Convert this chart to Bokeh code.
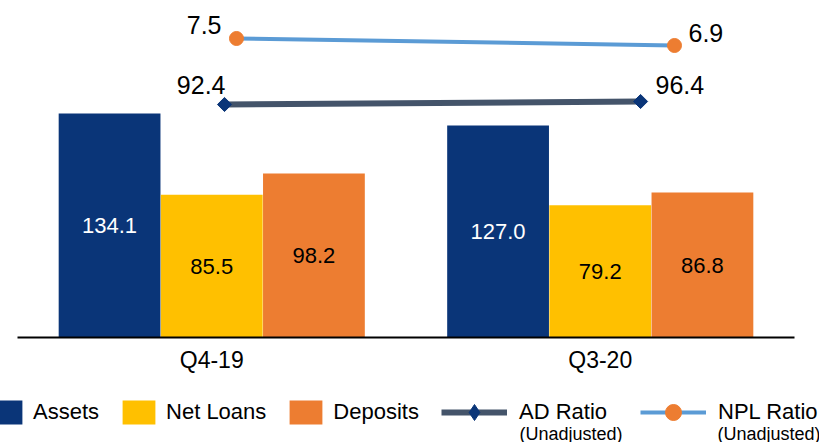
import math
import numpy as np
from bokeh.plotting import figure
from bokeh.layouts import column
from bokeh.models import (ColumnDataSource, Range1d, Legend, LegendItem,
                          Label, FixedTicker)
from bokeh.transform import dodge
from bokeh.core.properties import value
from bokeh.embed import file_html
from bokeh.resources import INLINE

# ---- data ----
quarters = ["Q4-19", "Q3-20"]
assets = [134.1, 127.0]
net_loans = [85.5, 79.2]
deposits = [98.2, 86.8]
ad_ratio = [92.4, 96.4]
npl_ratio = [7.5, 6.9]

# ---- styles ----
FONT = "Liberation Sans"
C_ASSETS = "#0A3578"
C_LOANS = "#FFC000"
C_DEPOSITS = "#ED7D31"
C_AD_LINE = "#44546A"
C_AD_MARK = "#0A3578"
C_NPL_LINE = "#5B9BD5"
C_NPL_MARK = "#ED7D31"
BAR_W = 0.262
OFF = 0.263

cat_pos = [i + 0.5 for i in range(len(quarters))]   # category centres
idx = list(range(len(quarters)))

p = figure(width=819, height=382,
           x_range=Range1d(0, len(quarters)),
           y_range=Range1d(0, 195.8),
           output_backend="svg", toolbar_location=None,
           min_border_left=17, min_border_right=25,
           min_border_top=10, min_border_bottom=45)

p.extra_x_ranges = {"ad": Range1d(-0.4976, 1.370), "npl": Range1d(-0.5, 1.274)}
p.extra_y_ranges = {"ad": Range1d(-218.27, 217.73), "npl": Range1d(-18.13, 9.9)}

src = ColumnDataSource(dict(
    x=cat_pos,
    assets=assets, net_loans=net_loans, deposits=deposits,
    assets_mid=[v / 2 for v in assets],
    loans_mid=[v / 2 for v in net_loans],
    deposits_mid=[v / 2 for v in deposits],
    assets_lbl=[f"{v:.1f}" for v in assets],
    loans_lbl=[f"{v:.1f}" for v in net_loans],
    deposits_lbl=[f"{v:.1f}" for v in deposits],
))

p.vbar(x=dodge("x", -OFF), top="assets", width=BAR_W,
       source=src, fill_color=C_ASSETS, line_color=None)
p.vbar(x=dodge("x", 0), top="net_loans", width=BAR_W,
       source=src, fill_color=C_LOANS, line_color=None)
p.vbar(x=dodge("x", OFF), top="deposits", width=BAR_W,
       source=src, fill_color=C_DEPOSITS, line_color=None)

for off, ycol, tcol, col in [(-OFF, "assets_mid", "assets_lbl", "white"),
                             (0, "loans_mid", "loans_lbl", "black"),
                             (OFF, "deposits_mid", "deposits_lbl", "black")]:
    p.text(x=dodge("x", off), y=ycol, text=tcol, source=src,
           text_align="center", text_baseline="middle", text_color=col,
           text_font=value(FONT), text_font_size="22px")

# ---- ratio lines ----
ad_src = ColumnDataSource(dict(
    i=idx, v=ad_ratio,
    lbl=[f"{v:.1f}" for v in ad_ratio],
    align=["right", "left"], dx=[1, 15], dy=[-19, -16],
))
npl_src = ColumnDataSource(dict(
    i=idx, v=npl_ratio,
    lbl=[f"{v:.1f}" for v in npl_ratio],
    align=["right", "left"], dx=[-15, 14], dy=[-13, -12],
))

p.line("i", "v", source=ad_src, x_range_name="ad", y_range_name="ad",
       line_color=C_AD_LINE, line_width=6)
p.scatter("i", "v", source=ad_src, x_range_name="ad", y_range_name="ad",
          marker="square", angle=math.pi / 4, size=10,
          fill_color=C_AD_MARK, line_color=C_AD_MARK)
p.text(x="i", y="v", text="lbl", source=ad_src, x_range_name="ad", y_range_name="ad",
       text_align="align", x_offset="dx", y_offset="dy", text_baseline="middle",
       text_font=value(FONT), text_font_size="25px", text_color="black")

p.line("i", "v", source=npl_src, x_range_name="npl", y_range_name="npl",
       line_color=C_NPL_LINE, line_width=4)
p.scatter("i", "v", source=npl_src, x_range_name="npl", y_range_name="npl",
          marker="circle", size=14, fill_color=C_NPL_MARK, line_color=C_NPL_MARK)
p.text(x="i", y="v", text="lbl", source=npl_src, x_range_name="npl", y_range_name="npl",
       text_align="align", x_offset="dx", y_offset="dy", text_baseline="middle",
       text_font=value(FONT), text_font_size="25px", text_color="black")

# ---- axes ----
p.yaxis.visible = False
p.xgrid.grid_line_color = None
p.ygrid.grid_line_color = None
p.outline_line_color = None
p.xaxis.ticker = FixedTicker(ticks=cat_pos)
p.xaxis.major_label_overrides = {pos: q for pos, q in zip(cat_pos, quarters)}
p.xaxis.axis_line_color = "black"
p.xaxis.axis_line_width = 2
p.xaxis.major_tick_line_color = None
p.xaxis.minor_tick_line_color = None
p.xaxis.major_label_text_font = FONT
p.xaxis.major_label_text_font_size = "23px"
p.xaxis.major_label_text_color = "black"
p.xaxis.major_label_standoff = 3

# ---- legend strip (own frame; key glyphs carry no visible data) ----
lg = figure(width=819, height=60, x_range=Range1d(0, 1), y_range=Range1d(0, 1),
            output_backend="svg", toolbar_location=None,
            min_border_left=0, min_border_right=0,
            min_border_top=0, min_border_bottom=0)
lg.axis.visible = False
lg.grid.grid_line_color = None
lg.outline_line_color = None
frame_left = 17
if "frame_align" in lg.properties():
    lg.frame_align = False
    p.frame_align = False
    frame_left = 0

nan = np.array([np.nan])
k_assets = lg.vbar(x=nan, top=nan, width=0.1, fill_color=C_ASSETS, line_color=None)
k_loans = lg.vbar(x=nan, top=nan, width=0.1, fill_color=C_LOANS, line_color=None)
k_deps = lg.vbar(x=nan, top=nan, width=0.1, fill_color=C_DEPOSITS, line_color=None)
k_ad_l = lg.line(x=nan, y=nan, line_color=C_AD_LINE, line_width=6)
k_ad_m = lg.scatter(x=nan, y=nan, marker="diamond", size=10,
                    fill_color=C_AD_MARK, line_color=C_AD_MARK)
k_npl_l = lg.line(x=nan, y=nan, line_color=C_NPL_LINE, line_width=4)
k_npl_m = lg.scatter(x=nan, y=nan, marker="circle", size=10,
                     fill_color=C_NPL_MARK, line_color=C_NPL_MARK)

STRIP_H = 60
G1_H, G2_H = 30, 40
leg1 = Legend(items=[LegendItem(label="Assets", renderers=[k_assets]),
                     LegendItem(label="Net Loans", renderers=[k_loans]),
                     LegendItem(label="Deposits", renderers=[k_deps])],
              orientation="horizontal",
              location=(-15 - frame_left, (STRIP_H - G1_H) // 2),
              glyph_width=41, glyph_height=G1_H, label_height=24,
              label_standoff=7, spacing=19, padding=0, margin=0,
              border_line_color=None, background_fill_alpha=0,
              label_text_font=FONT, label_text_font_size="22px",
              label_text_color="black")
leg2 = Legend(items=[LegendItem(label="AD Ratio", renderers=[k_ad_l, k_ad_m]),
                     LegendItem(label="NPL Ratio", renderers=[k_npl_l, k_npl_m])],
              orientation="horizontal",
              location=(441 - frame_left, (STRIP_H - G2_H) // 2),
              glyph_width=66, glyph_height=G2_H, label_height=24,
              label_standoff=12, spacing=33, padding=0, margin=0,
              border_line_color=None, background_fill_alpha=0,
              label_text_font=FONT, label_text_font_size="22px",
              label_text_color="black")
lg.add_layout(leg1)
lg.add_layout(leg2)

for xs in (519, 717):
    lg.add_layout(Label(x=xs - frame_left, y=9, x_units="screen", y_units="screen",
                        text="(Unadjusted)", text_font=FONT,
                        text_font_size="18px", text_baseline="alphabetic",
                        text_color="black"))

layout = column(p, lg, spacing=0)
open("out.html", "w").write(file_html(layout, INLINE))
